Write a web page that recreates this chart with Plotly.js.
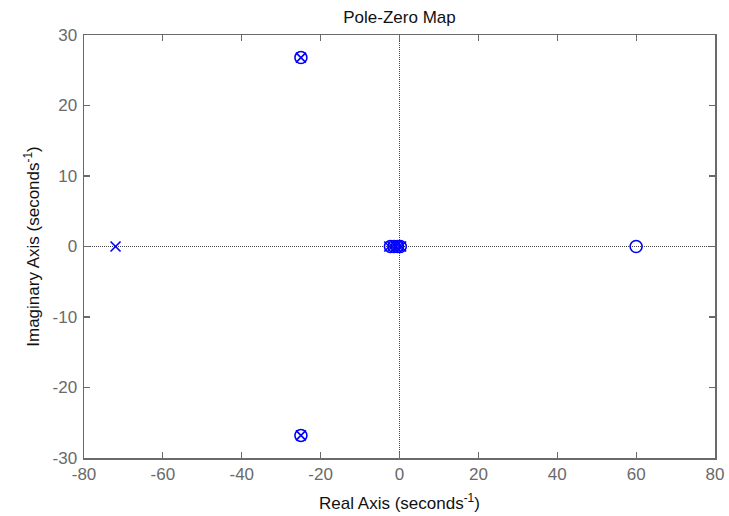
<!DOCTYPE html>
<html><head><meta charset="utf-8">
<script src="https://cdn.plot.ly/plotly-3.0.1.min.js"></script>
<style>html,body{margin:0;padding:0;background:#fff}</style>
</head><body>
<div id="chart" style="width:729px;height:516px"></div>
<script>
const poleReal = [-72, -25, -25, -2.6, -1.8, -0.9, -0.2, 0.4];
const poleImag = [0, 26.8, -26.8, 0, 0, 0, 0, 0];
const zeroReal = [60, -25, -25, -2.3, -1.4, -0.5, 0.2];
const zeroImag = [0, 26.8, -26.8, 0, 0, 0, 0];
const xTicks = [-80, -60, -40, -20, 0, 20, 40, 60, 80];
const yTicks = [-30, -20, -10, 0, 10, 20, 30];

const FONT = 'Liberation Sans, Arial';
const axisCommon = {
  showgrid: false, zeroline: false, showline: true, mirror: 'ticks',
  linecolor: '#6a6a6a', linewidth: 1.5, ticks: 'inside', ticklen: 6,
  tickcolor: '#6a6a6a', tickwidth: 1.2,
  tickfont: {family: FONT, size: 17, color: '#6a6a6a'}
};

const traces = [
  {x: poleReal, y: poleImag, mode: 'markers', type: 'scatter', name: 'poles',
   marker: {symbol: 'x-thin-open', size: 10, color: '#0000ff', line: {color: '#0000ff', width: 1.6}}},
  {x: zeroReal, y: zeroImag, mode: 'markers', type: 'scatter', name: 'zeros',
   marker: {symbol: 'circle-open', size: 12, color: '#0000ff', line: {color: '#0000ff', width: 1.6}}}
];

const layout = {
  width: 729, height: 516,
  margin: {l: 84, r: 14, t: 35, b: 58},
  paper_bgcolor: '#fff', plot_bgcolor: '#fff',
  showlegend: false,
  title: {text: 'Pole-Zero Map', font: {family: FONT, size: 17, color: '#111'}, x: 0.5, xref: 'paper', xanchor: 'center', y: 1, yref: 'container', yanchor: 'top', pad: {t: 11}},
  xaxis: Object.assign({}, axisCommon, {
    range: [-80, 80], tickvals: xTicks, ticktext: xTicks.map(String),
    title: {text: 'Real Axis (seconds<sup>-1</sup>)', font: {family: FONT, size: 17, color: '#111'}, standoff: 14}
  }),
  yaxis: Object.assign({}, axisCommon, {
    range: [-30, 30], tickvals: yTicks, ticktext: yTicks.map(String),
    ticklabelstandoff: 2,
    title: {text: 'Imaginary Axis (seconds<sup>-1</sup>)', font: {family: FONT, size: 17, color: '#111'}, standoff: 8}
  }),
  shapes: [
    {type: 'line', xref: 'x', yref: 'paper', x0: 0, x1: 0, y0: 0, y1: 1, line: {color: '#444', width: 1, dash: '1px,1px'}, layer: 'below'},
    {type: 'line', xref: 'paper', yref: 'y', x0: 0, x1: 1, y0: 0, y1: 0, line: {color: '#444', width: 1, dash: '1px,1px'}, layer: 'below'}
  ]
};

Plotly.newPlot('chart', traces, layout, {displayModeBar: false, staticPlot: true});
</script>
</body></html>
